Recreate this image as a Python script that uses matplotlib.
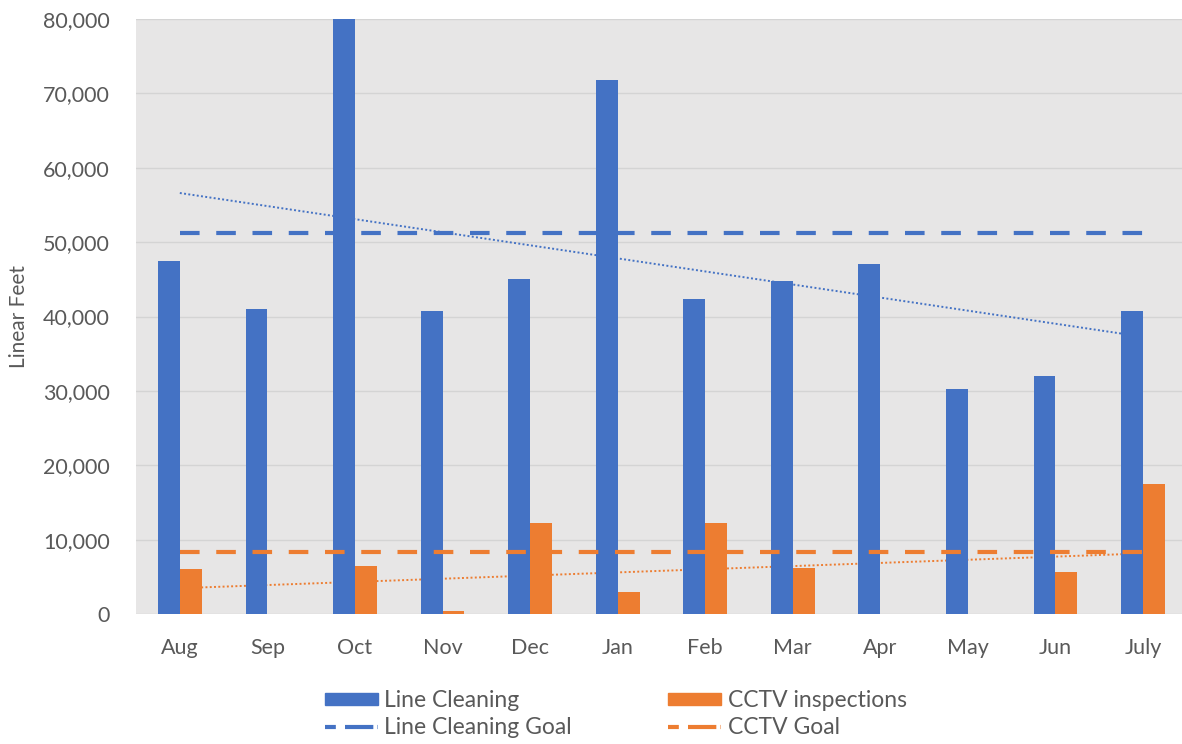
import matplotlib.pyplot as plt
import numpy as np
from matplotlib.lines import Line2D
from matplotlib.patches import Patch
from matplotlib.ticker import FuncFormatter

plt.rcParams["font.family"] = ["Lato", "DejaVu Sans"]

months = ["Aug", "Sep", "Oct", "Nov", "Dec", "Jan", "Feb", "Mar", "Apr", "May", "Jun", "July"]
line_cleaning = [47500, 41000, 80000, 40800, 45000, 71800, 42400, 44800, 47000, 30300, 32000, 40700]
cctv = [6000, 0, 6500, 400, 12200, 3000, 12200, 6200, 0, 0, 5700, 17500]
line_cleaning_goal = 51200
cctv_goal = 8300

blue = "#4472C4"
orange = "#ED7D31"
grey_txt = "#595959"

x = np.arange(len(months))
w = 0.25

fig = plt.figure(figsize=(11.82, 7.44), dpi=100)
ax = fig.add_axes([0.1151, 0.1747, 0.889, 0.7997])
ax.set_facecolor("#E7E6E6")

# linear trendlines, fitted like Excel does
for vals, col in [(line_cleaning, blue), (cctv, orange)]:
    m, b = np.polyfit(x, vals, 1)
    ax.plot(x, m * x + b, color=col, lw=1.4, ls=(0, (1, 1.2)), zorder=1)

ax.bar(x - w / 2, line_cleaning, w, color=blue, zorder=2)
ax.bar(x + w / 2, cctv, w, color=orange, zorder=2)

# monthly goals
goal_style = dict(lw=3, dashes=(4.7, 4), zorder=3, dash_capstyle="butt")
ax.plot(x, [line_cleaning_goal] * len(x), color=blue, **goal_style)
ax.plot(x, [cctv_goal] * len(x), color=orange, **goal_style)

ax.set_xlim(-0.5, 11.5)
ax.set_ylim(0, 80000)
ax.set_yticks(range(0, 80001, 10000))
ax.yaxis.set_major_formatter(FuncFormatter(lambda v, p: f"{int(v):,}"))
ax.set_xticks(x)
ax.set_xticklabels(months)
ax.grid(axis="y", color="#D4D4D4", lw=1)
ax.set_axisbelow(True)
for s in ax.spines.values():
    s.set_visible(False)
ax.tick_params(length=0, labelsize=15.5, labelcolor=grey_txt)
ax.tick_params(axis="x", pad=17)
ax.tick_params(axis="y", pad=19)
ax.set_ylabel("Linear Feet", fontsize=15, color=grey_txt, labelpad=10)

leg_dash = dict(lw=3, dashes=(2.6, 2.2, 6.8, 1), dash_capstyle="butt")
handles = [
    Patch(color=blue),
    Line2D([], [], color=blue, **leg_dash),
    Patch(color=orange),
    Line2D([], [], color=orange, **leg_dash),
]
labels = ["Line Cleaning", "Line Cleaning Goal", "CCTV inspections", "CCTV Goal"]
fig.legend(handles, labels, ncol=2, loc="center", bbox_to_anchor=(0.521, 0.040),
           frameon=False, fontsize=16.5, labelcolor=grey_txt, handlelength=2.3,
           handleheight=0.45, handletextpad=0.3, columnspacing=4.2, labelspacing=0.25,
           borderpad=0)

fig.savefig("out.png", dpi=100)
